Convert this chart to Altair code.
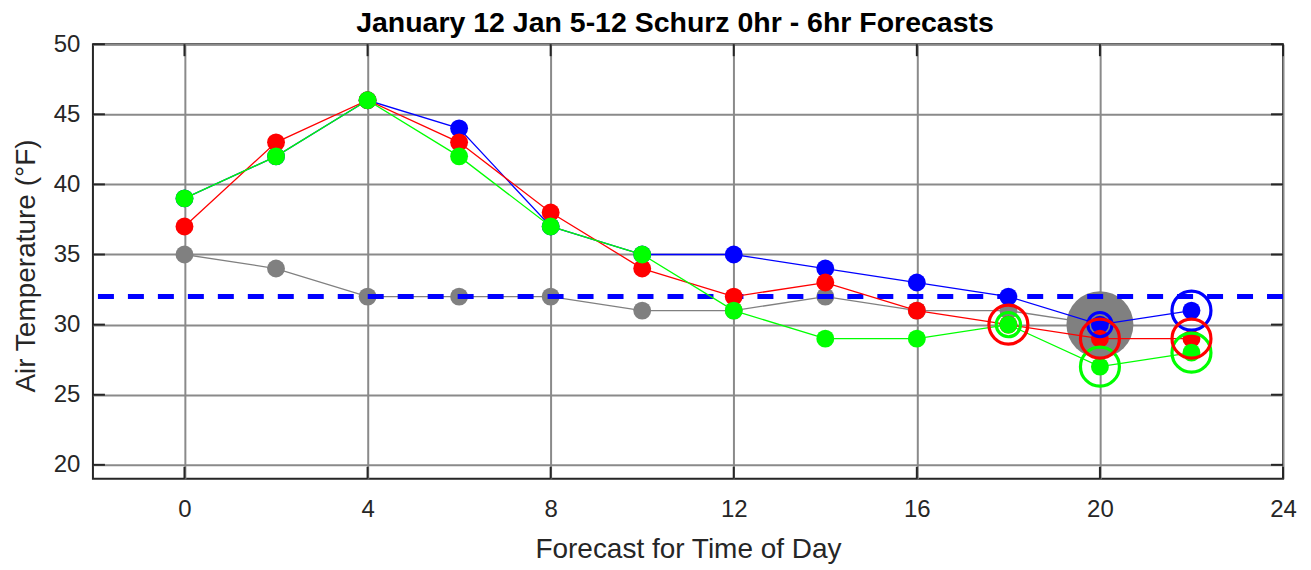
import altair as alt
import pandas as pd

# ---- data ----
hours = [0, 2, 4, 6, 8, 10, 12, 14, 16, 18, 20, 22]
gray_hours = [0, 2, 4, 6, 8, 10, 12, 14, 16, 18, 20]
gray_vals = [35, 34, 32, 32, 32, 31, 31, 32, 31, 31, 30]
blue_vals = [39, 42, 46, 44, 37, 35, 35, 34, 33, 32, 30, 31]
red_vals = [37, 43, 46, 43, 38, 34, 32, 33, 31, 30, 29, 29]
green_vals = [39, 42, 46, 42, 37, 35, 31, 29, 29, 30, 27, 28]

# current observation (large grey dot)
obs_hour = [20]
obs_val = [30]

# open-circle highlights: hour, series, value, size class
ring_hours = [18, 18, 20, 20, 20, 22, 22, 22]
ring_series = ["red", "green", "blue", "red", "green", "blue", "red", "green"]
ring_vals = [30, 30, 30, 29, 27, 31, 29, 28]
ring_kind = ["large", "small", "small", "large", "large", "large", "large", "large"]

freeze_line = [32]
x_ticks = [0, 4, 8, 12, 16, 20, 24]
y_ticks = [20, 25, 30, 35, 40, 45, 50]

TITLE = "January 12 Jan 5-12 Schurz 0hr - 6hr Forecasts"
X_TITLE = "Forecast for Time of Day"
Y_TITLE = "Air Temperature (°F)"

COLORS = {"gray": "#808080", "blue": "#0000ff", "red": "#ff0000", "green": "#00ff00"}

W, H = 1191, 435
FONT = "Liberation Sans"

xs = alt.Scale(domain=[-2, 24], nice=False, zero=False)
ys = alt.Scale(domain=[19, 50], nice=False, zero=False)

xaxis = alt.Axis(values=x_ticks, title=X_TITLE, grid=True, gridColor="#8a8a8a",
                 gridWidth=2, ticks=False, tickSize=0, domain=False,
                 labelFontSize=24, labelColor="#262626", labelFont=FONT,
                 labelPadding=31, labelBaseline="middle", labelFlush=False,
                 titleFont=FONT, titleFontSize=28, titleFontWeight="normal",
                 titleColor="#262626", titleY=71, titleBaseline="middle")
yaxis = alt.Axis(values=y_ticks, title=Y_TITLE, grid=True, gridColor="#8a8a8a",
                 gridWidth=2, ticks=False, tickSize=0, domain=False,
                 labelFontSize=24, labelColor="#262626", labelFont=FONT,
                 labelPadding=13, labelFlush=False,
                 titleFont=FONT, titleFontSize=28, titleFontWeight="normal",
                 titleColor="#262626", titleX=-66, titleY=H / 2 + 4,
                 titleAngle=270, titleAlign="center", titleBaseline="middle")


def X(field):
    return alt.X(field, type="quantitative", scale=xs, axis=xaxis)


def Y(field):
    return alt.Y(field, type="quantitative", scale=ys, axis=yaxis)


layers = []

# inward tick marks on all four sides
xt = pd.DataFrame({"hour": x_ticks})
yt = pd.DataFrame({"temp": y_ticks})
tick_style = dict(color="#262626", strokeWidth=2)
layers.append(alt.Chart(xt).mark_rule(**tick_style).encode(
    x=X("hour"), y=alt.value(H), y2=alt.value(H - 12)))
layers.append(alt.Chart(xt).mark_rule(**tick_style).encode(
    x=X("hour"), y=alt.value(0), y2=alt.value(12)))
layers.append(alt.Chart(yt).mark_rule(**tick_style).encode(
    y=Y("temp"), x=alt.value(0), x2=alt.value(12)))
layers.append(alt.Chart(yt).mark_rule(**tick_style).encode(
    y=Y("temp"), x=alt.value(W), x2=alt.value(W - 12)))


def series(hrs, vals, color):
    df = pd.DataFrame({"hour": hrs, "temp": vals})
    base = alt.Chart(df).encode(x=X("hour"), y=Y("temp"))
    return [base.mark_line(color=color, strokeWidth=1.3),
            base.mark_circle(color=color, size=320, opacity=1)]


layers += series(gray_hours, gray_vals, COLORS["gray"])

obs = pd.DataFrame({"hour": obs_hour, "temp": obs_val})
layers.append(alt.Chart(obs).mark_circle(color=COLORS["gray"], size=4490, opacity=1)
              .encode(x=X("hour"), y=Y("temp")))

fl = pd.DataFrame({"temp": freeze_line})
layers.append(alt.Chart(fl).mark_rule(color="#0000ff", strokeWidth=5, strokeDash=[16, 14])
              .encode(y=Y("temp")))

layers += series(hours, blue_vals, COLORS["blue"])
layers += series(hours, red_vals, COLORS["red"])
layers += series(hours, green_vals, COLORS["green"])

rings = pd.DataFrame({"hour": ring_hours, "series": ring_series,
                      "temp": ring_vals, "kind": ring_kind})
layers.append(alt.Chart(rings).mark_point(filled=False, strokeWidth=3.2, opacity=1, shape="circle")
              .encode(x=X("hour"), y=Y("temp"),
                      color=alt.Color("series:N", legend=None,
                                      scale=alt.Scale(domain=["blue", "red", "green"],
                                                      range=[COLORS["blue"], COLORS["red"], COLORS["green"]])),
                      size=alt.Size("kind:N", legend=None,
                                    scale=alt.Scale(domain=["small", "large"], range=[590, 1520])),
                      order=alt.Order("series:N")))

# chart title drawn as a text mark just above the plot frame
title_df = pd.DataFrame({"t": [TITLE]})
layers.append(alt.Chart(title_df).mark_text(font=FONT, fontSize=28.5, fontWeight="bold",
                                            color="black", align="center", baseline="alphabetic")
              .encode(text="t:N", x=alt.value(W / 2 - 13), y=alt.value(-12)))

chart = alt.layer(*layers).properties(
    width=W, height=H,
    autosize=alt.AutoSizeParams(type="none"),
    padding={"left": 85, "top": 36, "right": 20, "bottom": 90},
    background="white",
).configure_view(stroke="#262626", strokeWidth=2)

chart.save("out.html", embed_options={"renderer": "svg", "actions": False})
